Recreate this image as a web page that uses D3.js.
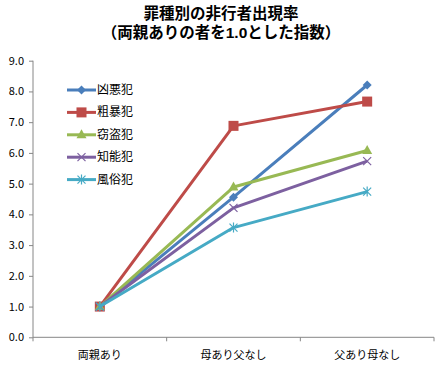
<!DOCTYPE html>
<html><head><meta charset="utf-8">
<script src="https://cdn.jsdelivr.net/npm/d3@7"></script>
<style>body{margin:0;background:#fff;} svg{display:block;}</style>
</head><body>
<svg id="c" width="441" height="365"></svg>
<script>
const categories = ["両親あり", "母あり父なし", "父あり母なし"];
const seriesNames = ["凶悪犯", "粗暴犯", "窃盗犯", "知能犯", "風俗犯"];
const kyoaku = [1.0, 4.56, 8.21];
const sobou = [1.0, 6.88, 7.67];
const settou = [1.0, 4.89, 6.08];
const chinou = [1.0, 4.21, 5.73];
const fuzoku = [1.0, 3.57, 4.74];
const yTicks = [0, 1, 2, 3, 4, 5, 6, 7, 8, 9];
const titleLines = ["罪種別の非行者出現率", "（両親ありの者を1.0とした指数）"];

const seriesValues = [kyoaku, sobou, settou, chinou, fuzoku];
const colors = ["#4a7ebb", "#be4b48", "#98b954", "#7d60a0", "#46aac5"];
const markers = ["diamond", "square", "triangle", "x", "star"];

const svg = d3.select("#c");
const font = "'Noto Sans CJK JP', 'Noto Sans', sans-serif";
const titleFont = "'Liberation Sans', 'Noto Sans CJK JP', sans-serif";
const m = {l: 33, r: 434, t: 60.7, b: 337.3};

const x = d3.scaleBand().domain(categories).range([m.l, m.r]);
const y = d3.scaleLinear().domain([0, 9]).range([m.b, m.t]);

// Title
svg.append("g").selectAll("text").data(titleLines).join("text")
  .attr("x", 221).attr("y", (d, i) => 19 + i * 19)
  .attr("text-anchor", "middle").attr("font-family", titleFont)
  .attr("font-weight", "bold").attr("font-size", 15.5).attr("fill", "#000")
  .text(d => d);

// Y axis
const ya = svg.append("g").attr("transform", `translate(${m.l},0)`)
  .call(d3.axisLeft(y).tickValues(yTicks).tickFormat(d3.format(".1f")).tickSize(4).tickPadding(5));
ya.select(".domain").attr("stroke", "#868686").attr("d", `M0,${m.t}V${m.b}`);
ya.selectAll(".tick line").attr("stroke", "#868686");
ya.selectAll(".tick text").attr("font-family", font).attr("font-size", 11).attr("fill", "#000");

// X axis
const xa = svg.append("g").attr("transform", `translate(0,${m.b})`);
xa.append("line").attr("x1", m.l).attr("x2", m.r).attr("stroke", "#868686");
const bounds = categories.map(c => x(c)).concat([x(categories[categories.length - 1]) + x.bandwidth()]);
xa.selectAll("line.t").data(bounds).join("line").attr("class", "t")
  .attr("x1", d => d).attr("x2", d => d).attr("y1", 0).attr("y2", 4).attr("stroke", "#868686");
xa.selectAll("text").data(categories).join("text")
  .attr("x", d => x(d) + x.bandwidth() / 2).attr("y", 22)
  .attr("text-anchor", "middle").attr("font-family", font).attr("font-size", 11).attr("fill", "#000")
  .text(d => d);

function drawMarker(g, type, cx, cy, color) {
  if (type === "diamond") {
    g.append("path").attr("d", `M${cx},${cy-4.5}L${cx+4.5},${cy}L${cx},${cy+4.5}L${cx-4.5},${cy}Z`).attr("fill", color);
  } else if (type === "square") {
    g.append("rect").attr("x", cx - 5).attr("y", cy - 5).attr("width", 10).attr("height", 10).attr("fill", color);
  } else if (type === "triangle") {
    g.append("path").attr("d", `M${cx},${cy-5.5}L${cx+5},${cy+3.5}L${cx-5},${cy+3.5}Z`).attr("fill", color);
  } else if (type === "x") {
    g.append("path").attr("d", `M${cx-4},${cy-4}L${cx+4},${cy+4}M${cx-4},${cy+4}L${cx+4},${cy-4}`).attr("stroke", color).attr("stroke-width", 1.2);
  } else if (type === "star") {
    g.append("path").attr("d", `M${cx-4},${cy-4}L${cx+4},${cy+4}M${cx-4},${cy+4}L${cx+4},${cy-4}M${cx},${cy-5}L${cx},${cy+5}`).attr("stroke", color).attr("stroke-width", 1.2);
  }
}

const line = d3.line().x((d, i) => x(categories[i]) + x.bandwidth() / 2).y(d => y(d));
seriesValues.forEach((vals, si) => {
  const g = svg.append("g");
  g.append("path").datum(vals).attr("d", line).attr("fill", "none")
    .attr("stroke", colors[si]).attr("stroke-width", 3).attr("stroke-linejoin", "round");
  vals.forEach((v, i) => drawMarker(g, markers[si], x(categories[i]) + x.bandwidth() / 2, y(v), colors[si]));
});

// Legend
const lg = svg.append("g");
seriesNames.forEach((n, i) => {
  const cy = 90 + i * 22.4;
  lg.append("line").attr("x1", 67).attr("x2", 96).attr("y1", cy).attr("y2", cy)
    .attr("stroke", colors[i]).attr("stroke-width", 3);
  drawMarker(lg, markers[i], 81.5, cy, colors[i]);
  lg.append("text").attr("x", 97).attr("y", cy + 4).attr("font-family", font)
    .attr("font-size", 12).attr("fill", "#000").text(n);
});
</script>
</body></html>
